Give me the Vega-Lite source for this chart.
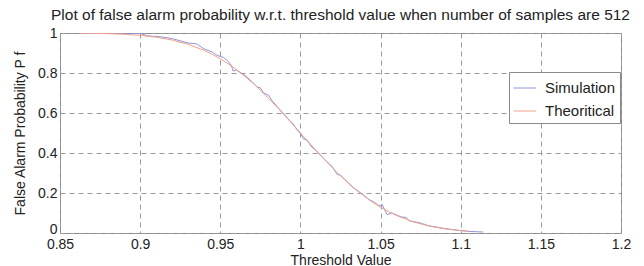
{
  "$schema": "https://vega.github.io/schema/vega-lite/v6.json",
  "width": 561,
  "height": 200,
  "autosize": {"type": "none"},
  "padding": {"left": 60, "top": 33, "right": 23, "bottom": 33},
  "background": "white",
  "title": {
    "text": "Plot of false alarm probability w.r.t. threshold value when number of samples are 512",
    "font": "Liberation Sans",
    "fontSize": 15.5,
    "fontWeight": "normal",
    "color": "#222",
    "anchor": "middle",
    "offset": 3
  },
  "config": {
    "view": {"stroke": "#8a8a8a", "strokeWidth": 1},
    "axis": {
      "labelFont": "Liberation Sans",
      "titleFont": "Liberation Sans",
      "labelFontSize": 14,
      "titleFontSize": 14,
      "labelColor": "#222",
      "titleColor": "#222",
      "titleFontWeight": "normal",
      "grid": true,
      "gridColor": "#9a9a9a",
      "gridDash": [5, 4],
      "gridWidth": 1,
      "domain": false,
      "tickColor": "#8a8a8a",
      "tickSize": 0,
      "labelOverlap": false,
      "labelFlush": false,
      "labelBound": false
    }
  },
  "datasets": {
    "sim": [
      {"t": 0.8625, "p": 1.0},
      {"t": 0.9, "p": 0.998},
      {"t": 0.905, "p": 0.985},
      {"t": 0.912, "p": 0.982},
      {"t": 0.92, "p": 0.972},
      {"t": 0.93, "p": 0.95},
      {"t": 0.935, "p": 0.946},
      {"t": 0.94, "p": 0.92},
      {"t": 0.945, "p": 0.905},
      {"t": 0.948, "p": 0.888},
      {"t": 0.952, "p": 0.878},
      {"t": 0.955, "p": 0.858},
      {"t": 0.957, "p": 0.835},
      {"t": 0.958, "p": 0.81},
      {"t": 0.96, "p": 0.815},
      {"t": 0.963, "p": 0.8},
      {"t": 0.967, "p": 0.778},
      {"t": 0.97, "p": 0.755},
      {"t": 0.973, "p": 0.73},
      {"t": 0.975, "p": 0.726},
      {"t": 0.977, "p": 0.7},
      {"t": 0.98, "p": 0.69},
      {"t": 0.982, "p": 0.665},
      {"t": 0.985, "p": 0.636},
      {"t": 0.988, "p": 0.61},
      {"t": 0.99, "p": 0.592},
      {"t": 0.993, "p": 0.565},
      {"t": 0.995, "p": 0.55},
      {"t": 0.998, "p": 0.515},
      {"t": 1.0, "p": 0.497},
      {"t": 1.002, "p": 0.47},
      {"t": 1.004, "p": 0.466},
      {"t": 1.007, "p": 0.43},
      {"t": 1.01, "p": 0.412},
      {"t": 1.013, "p": 0.385},
      {"t": 1.016, "p": 0.36},
      {"t": 1.018, "p": 0.347},
      {"t": 1.02, "p": 0.33},
      {"t": 1.023, "p": 0.292},
      {"t": 1.025, "p": 0.29},
      {"t": 1.028, "p": 0.265},
      {"t": 1.03, "p": 0.25},
      {"t": 1.033, "p": 0.226},
      {"t": 1.036, "p": 0.21},
      {"t": 1.04, "p": 0.186},
      {"t": 1.043, "p": 0.166},
      {"t": 1.046, "p": 0.155},
      {"t": 1.049, "p": 0.135},
      {"t": 1.051, "p": 0.142},
      {"t": 1.054, "p": 0.092},
      {"t": 1.057, "p": 0.1},
      {"t": 1.06, "p": 0.09},
      {"t": 1.063, "p": 0.08},
      {"t": 1.066, "p": 0.078},
      {"t": 1.068, "p": 0.06},
      {"t": 1.072, "p": 0.055},
      {"t": 1.075, "p": 0.05},
      {"t": 1.08, "p": 0.036},
      {"t": 1.085, "p": 0.03},
      {"t": 1.09, "p": 0.022},
      {"t": 1.095, "p": 0.017},
      {"t": 1.1, "p": 0.012},
      {"t": 1.105, "p": 0.008},
      {"t": 1.114, "p": 0.005}
    ],
    "theo": [
      {"t": 0.8625, "p": 0.9992},
      {"t": 0.87, "p": 0.9984},
      {"t": 0.88, "p": 0.9967},
      {"t": 0.89, "p": 0.9936},
      {"t": 0.9, "p": 0.9882},
      {"t": 0.91, "p": 0.9792},
      {"t": 0.92, "p": 0.9649},
      {"t": 0.93, "p": 0.9434},
      {"t": 0.94, "p": 0.9128},
      {"t": 0.945, "p": 0.8934},
      {"t": 0.95, "p": 0.871},
      {"t": 0.955, "p": 0.8457},
      {"t": 0.96, "p": 0.8173},
      {"t": 0.965, "p": 0.7858},
      {"t": 0.97, "p": 0.7514},
      {"t": 0.975, "p": 0.7143},
      {"t": 0.98, "p": 0.6747},
      {"t": 0.985, "p": 0.6327},
      {"t": 0.99, "p": 0.5894},
      {"t": 0.995, "p": 0.545},
      {"t": 1.0, "p": 0.5},
      {"t": 1.005, "p": 0.455},
      {"t": 1.01, "p": 0.4106},
      {"t": 1.015, "p": 0.3673},
      {"t": 1.02, "p": 0.3254},
      {"t": 1.025, "p": 0.2857},
      {"t": 1.03, "p": 0.2486},
      {"t": 1.035, "p": 0.2142},
      {"t": 1.04, "p": 0.1827},
      {"t": 1.045, "p": 0.1543},
      {"t": 1.05, "p": 0.129},
      {"t": 1.055, "p": 0.1066},
      {"t": 1.06, "p": 0.0872},
      {"t": 1.07, "p": 0.0566},
      {"t": 1.08, "p": 0.0352},
      {"t": 1.09, "p": 0.0208},
      {"t": 1.1, "p": 0.0118},
      {"t": 1.105, "p": 0.0088}
    ]
  },
  "encoding": {
    "x": {
      "field": "t", "type": "quantitative",
      "scale": {"domain": [0.85, 1.2], "nice": false, "zero": false},
      "axis": {"values": [0.85, 0.9, 0.95, 1, 1.05, 1.1, 1.15, 1.2], "title": "Threshold Value", "labelPadding": 4, "titlePadding": 2, "labelExpr": "datum.value == 1 ? '1' : format(datum.value, '.3~f')"}
    },
    "y": {
      "field": "p", "type": "quantitative",
      "scale": {"domain": [0, 1], "nice": false},
      "axis": {
        "values": [0, 0.2, 0.4, 0.6, 0.8, 1], "tickCount": 6, "title": "False Alarm Probability P f", "labelPadding": 3, "titlePadding": 10,
        "labelBaseline": {"condition": {"test": "datum.value == 0", "value": "alphabetic"}, "value": "middle"},
        "labelExpr": "datum.value == 0 ? '0' : datum.value == 1 ? '1' : format(datum.value, '.1f')"
      }
    },
    "color": {
      "field": "series", "type": "nominal",
      "scale": {"domain": ["Simulation", "Theoritical"], "range": ["#9194dc", "#f2a088"]},
      "legend": {
        "orient": "none", "legendX": 449, "legendY": 39, "title": null,
        "strokeColor": "#8a8a8a", "fillColor": "white", "padding": 4,
        "labelFont": "Liberation Sans", "labelFontSize": 15, "labelColor": "#222",
        "symbolType": "stroke", "symbolSize": 500, "symbolStrokeWidth": 1,
        "rowPadding": 3, "labelOffset": 8
      }
    }
  },
  "layer": [
    {
      "data": {"name": "sim"},
      "transform": [{"calculate": "'Simulation'", "as": "series"}],
      "mark": {"type": "line", "strokeWidth": 1, "clip": true}
    },
    {
      "data": {"name": "theo"},
      "transform": [{"calculate": "'Theoritical'", "as": "series"}],
      "mark": {"type": "line", "strokeWidth": 1, "clip": true}
    }
  ]
}
